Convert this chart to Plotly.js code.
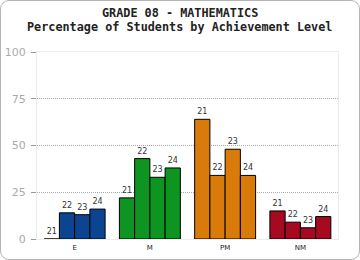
<!DOCTYPE html>
<html>
<head>
<meta charset="utf-8">
<script src="https://cdn.plot.ly/plotly-3.0.1.min.js"></script>
<style>
html,body{margin:0;padding:0;background:#fff;}
#wrap{position:relative;width:360px;height:260px;}
#chart{position:absolute;left:0;top:0;width:360px;height:260px;}
#frame{position:absolute;left:0;top:0;width:360px;height:260px;box-sizing:border-box;border:1px solid #b4b4b4;border-radius:9px;pointer-events:none;}
</style>
</head>
<body>
<div id="wrap"><div id="chart"></div><div id="frame"></div></div>
<script>
const categories = ["E", "M", "PM", "NM"];
const years = ["21", "22", "23", "24"];
const values21 = [0, 22, 64, 15];
const values22 = [14, 43, 34, 9];
const values23 = [13, 33, 48, 6];
const values24 = [16, 38, 34, 12];
const categoryColors = ["#0b4592", "#0e9420", "#d97b0b", "#a50a21"];
const yTicks = [0, 25, 50, 75, 100];
const gridTicks = [25, 50, 75];
const titleLine1 = "GRADE 08 - MATHEMATICS";
const titleLine2 = "Percentage of Students by Achievement Level";

const series = [values21, values22, values23, values24];
const traces = series.map((vals, i) => ({
  type: "bar",
  x: categories,
  y: vals,
  text: categories.map(() => years[i]),
  textposition: "outside",
  cliponaxis: false,
  textfont: {family: "DejaVu Sans", size: 8, color: "#333"},
  marker: {color: categoryColors, line: {color: "#000", width: 1}},
  hoverinfo: "none",
  showlegend: false
}));
// invisible trace on overlay axis for grid lines
traces.push({type: "scatter", x: [categories[0]], y: [0], yaxis: "y2", mode: "markers", marker: {opacity: 0}, showlegend: false, hoverinfo: "none"});

const layout = {
  width: 360, height: 260,
  margin: {l: 37, r: 22, t: 52, b: 21},
  paper_bgcolor: "rgba(0,0,0,0)",
  plot_bgcolor: "#fff",
  barmode: "group",
  bargap: 0.19,
  bargroupgap: 0,
  showlegend: false,
  xaxis: {
    type: "category",
    showline: true, linecolor: "#ececec", linewidth: 1, mirror: true,
    ticks: "", showgrid: false,
    tickfont: {family: "DejaVu Sans", size: 7, color: "#222"},
    ticklabelstandoff: 2
  },
  yaxis: {
    range: [0, 100], tickvals: yTicks,
    showgrid: false, zeroline: false,
    showline: true, linecolor: "#ececec", linewidth: 1, mirror: true,
    ticks: "outside", ticklen: 5, tickcolor: "#999", tickwidth: 1,
    tickfont: {family: "DejaVu Sans", size: 11, color: "#aaa"},
    ticklabelstandoff: 3
  },
  yaxis2: {
    overlaying: "y", range: [0, 100], tickvals: gridTicks,
    showgrid: true, gridcolor: "#aaa", griddash: "1px,1px", gridwidth: 1,
    showticklabels: false, zeroline: false, showline: false, ticks: ""
  },
  annotations: [
    {text: "<b>" + titleLine1 + "</b>", xref: "paper", yref: "paper", x: 0.475, y: 1.208, xanchor: "center", yanchor: "middle", showarrow: false,
     font: {family: "DejaVu Sans Mono", size: 11.8, color: "#222"}},
    {text: "<b>" + titleLine2 + "</b>", xref: "paper", yref: "paper", x: 0.475, y: 1.136, xanchor: "center", yanchor: "middle", showarrow: false,
     font: {family: "DejaVu Sans Mono", size: 11.8, color: "#222"}}
  ]
};
Plotly.newPlot("chart", traces, layout, {staticPlot: true, displayModeBar: false});
</script>
</body>
</html>
